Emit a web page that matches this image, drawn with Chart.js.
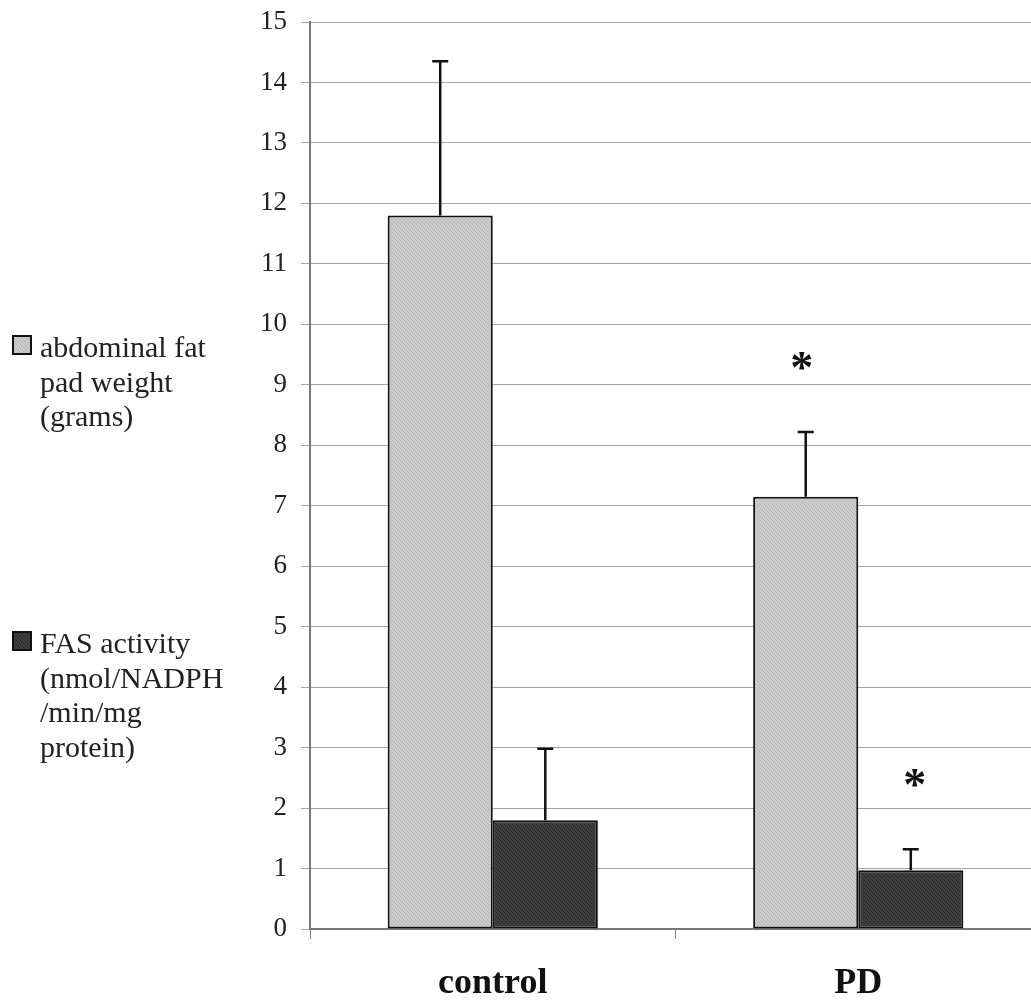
<!DOCTYPE html>
<html>
<head>
<meta charset="utf-8">
<script src="https://cdn.jsdelivr.net/npm/chart.js@4.4.1/dist/chart.umd.min.js"></script>
<style>
  body { margin: 0; background: #fff; }
  #wrap { width: 1031px; height: 1000px; overflow: hidden; }
</style>
</head>
<body>
<div id="wrap"><canvas id="chart" width="1042" height="1000"></canvas></div>
<script>
// data
const categories = ['control', 'PD'];
const fatPadLabel = ['abdominal fat', 'pad weight', '(grams)'];
const fasLabel = ['FAS activity', '(nmol/NADPH', '/min/mg', 'protein)'];
const fatPadWeight = [11.8, 7.15];
const fatPadWeightErr = [2.55, 1.07];
const fasActivity = [1.8, 0.97];
const fasActivityErr = [1.18, 0.35];
const fatPadSignificant = [false, true];
const fasSignificant = [false, true];
const yMin = 0, yMax = 15, yStep = 1;

// small fixed stipple patterns like the scanned print
function makePattern(c1, c2) {
    const p = document.createElement('canvas');
    p.width = 4; p.height = 4;
    const g = p.getContext('2d');
    g.fillStyle = c1; g.fillRect(0, 0, 4, 4);
    g.fillStyle = c2;
    g.fillRect(0, 0, 1, 1); g.fillRect(2, 1, 1, 1);
    g.fillRect(1, 2, 1, 1); g.fillRect(3, 3, 1, 1);
    return g.createPattern(p, 'repeat');
}
const ctx = document.getElementById('chart').getContext('2d');
const lightFill = makePattern('#cbcbcb', '#b6b6b6');
const darkFill = makePattern('#3f3f3f', '#2a2a2a');

const serif = '"Liberation Serif", "Times New Roman", serif';

// error bars (upper only) and asterisks
const errorBarPlugin = {
    id: 'errorBars',
    afterDatasetsDraw(chart) {
        const c = chart.ctx;
        const y = chart.scales.y;
        const errs = [fatPadWeightErr, fasActivityErr];
        const sig = [fatPadSignificant, fasSignificant];
        chart.data.datasets.forEach((ds, i) => {
            const meta = chart.getDatasetMeta(i);
            meta.data.forEach((bar, j) => {
                const top = y.getPixelForValue(ds.data[j] + errs[i][j]);
                c.save();
                c.strokeStyle = '#111';
                c.lineWidth = 2.5;
                c.beginPath();
                c.moveTo(bar.x, bar.y);
                c.lineTo(bar.x, top);
                c.moveTo(bar.x - 8, top);
                c.lineTo(bar.x + 8, top);
                c.stroke();
                if (sig[i][j]) {
                    c.fillStyle = '#111';
                    c.font = 'bold 46px ' + serif;
                    c.textAlign = 'center';
                    c.textBaseline = 'alphabetic';
                    c.fillText('*', bar.x + (i === 0 ? -4 : 4), top - 70 + 21);
                }
                c.restore();
            });
        });
    }
};

// legend on the left with wrapped labels
const sideLegendPlugin = {
    id: 'sideLegend',
    afterDraw(chart, args, opts) {
        const c = chart.ctx;
        c.save();
        c.font = '30px ' + serif;
        c.textAlign = 'left';
        c.textBaseline = 'alphabetic';
        chart.data.datasets.forEach((ds, i) => {
            const base = opts.baselines[i];
            c.fillStyle = ds.backgroundColor;
            c.fillRect(13, base - 21, 18, 18);
            c.strokeStyle = '#111';
            c.lineWidth = 2;
            c.strokeRect(13, base - 21, 18, 18);
            c.fillStyle = '#222';
            ds.label.forEach((line, k) => {
                c.fillText(line, 40, base + k * 34.5);
            });
        });
        c.restore();
    }
};

new Chart(ctx, {
    type: 'bar',
    data: {
        labels: categories,
        datasets: [{
            label: fatPadLabel,
            data: fatPadWeight,
            backgroundColor: lightFill,
            borderColor: '#111',
            borderWidth: 2,
            borderSkipped: false
        }, {
            label: fasLabel,
            data: fasActivity,
            backgroundColor: darkFill,
            borderColor: '#111',
            borderWidth: 2,
            borderSkipped: false
        }]
    },
    options: {
        responsive: false,
        devicePixelRatio: 1,
        animation: false,
        layout: { padding: { top: 22, left: 0, right: 1, bottom: 0 } },
        datasets: { bar: { barPercentage: 1, categoryPercentage: 0.575 } },
        plugins: {
            legend: { display: false },
            tooltip: { enabled: false },
            sideLegend: { baselines: [357, 653] }
        },
        scales: {
            x: {
                grid: { drawOnChartArea: false, drawTicks: true, tickLength: 10, color: '#888', offset: true },
                border: { color: '#777', width: 2 },
                ticks: { color: '#111', padding: 23, font: { family: serif, size: 36, weight: 'bold' } },
                afterFit(scale) { scale.height = 71; }
            },
            y: {
                min: yMin,
                max: yMax,
                ticks: { stepSize: yStep, color: '#222', padding: 14, font: { family: serif, size: 27 } },
                grid: { color: '#a6a6a6', lineWidth: 1, tickLength: 9 },
                border: { color: '#7a7a7a', width: 2 },
                afterFit(scale) {
                    scale.width = 310;
                    scale.paddingTop = 0;
                    scale.paddingBottom = 0;
                }
            }
        }
    },
    plugins: [errorBarPlugin, sideLegendPlugin]
});
</script>
</body>
</html>
